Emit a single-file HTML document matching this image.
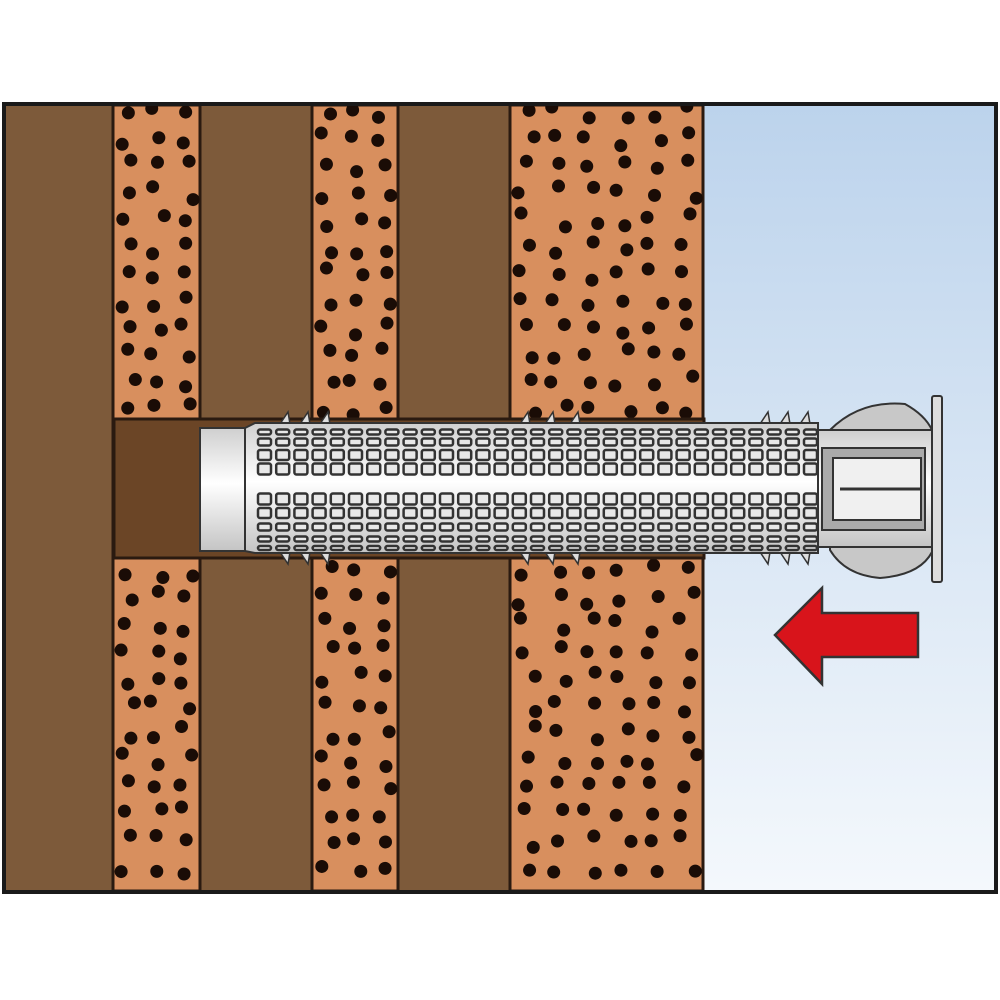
<!DOCTYPE html>
<html><head><meta charset="utf-8"><style>
html,body{margin:0;padding:0;background:#fff;width:1000px;height:1000px;overflow:hidden}
</style></head><body>
<svg id="s" width="1000" height="1000" viewBox="0 0 1000 1000" xmlns="http://www.w3.org/2000/svg">
<defs>
<linearGradient id="sky" x1="0" y1="0" x2="0" y2="1">
<stop offset="0" stop-color="#bcd3ec"/><stop offset="1" stop-color="#f4f8fc"/></linearGradient>
<linearGradient id="tube" x1="0" y1="0" x2="0" y2="1">
<stop offset="0" stop-color="#cfcfcf"/><stop offset="0.45" stop-color="#ffffff"/><stop offset="1" stop-color="#c4c4c4"/></linearGradient>
<clipPath id="c1"><rect x="113" y="105" width="87" height="786"/></clipPath>
<clipPath id="c2"><rect x="312" y="105" width="86" height="786"/></clipPath>
<clipPath id="c3"><rect x="510" y="105" width="193" height="786"/></clipPath>
</defs>
<rect x="5" y="105" width="990" height="786" fill="#7d5a3a"/>
<rect x="703" y="105" width="292" height="786" fill="url(#sky)"/>
<g stroke="#2a1a10" stroke-width="3">
<rect x="113" y="105" width="87" height="786" fill="#d88f5e"/>
<rect x="312" y="105" width="86" height="786" fill="#d88f5e"/>
<rect x="510" y="105" width="193" height="786" fill="#d88f5e"/>
</g>
<g id="dots" fill="#1a0c06"></g>
<!-- hole -->
<rect x="114" y="419" width="590" height="139" fill="#6b4526" stroke="#2a1a10" stroke-width="3"/>
<!-- head disc -->
<path d="M830 430 Q860 400 905 404 Q925 415 932 430 L932 552 Q920 575 880 578 Q845 575 830 550 Z" fill="#c8c8c8" stroke="#333" stroke-width="2"/>
<!-- teeth -->
<g fill="#ddd" stroke="#333" stroke-width="1.5">
<path d="M280 424 l8 -12 l2 12 M300 424 l8 -12 l2 12 M320 424 l8 -12 l2 12 M520 424 l8 -12 l2 12 M545 424 l8 -12 l2 12 M570 424 l8 -12 l2 12 M760 424 l8 -12 l2 12 M780 424 l8 -12 l2 12 M800 424 l8 -12 l2 12"/>
<path d="M280 552 l8 12 l2 -12 M300 552 l8 12 l2 -12 M320 552 l8 12 l2 -12 M520 552 l8 12 l2 -12 M545 552 l8 12 l2 -12 M570 552 l8 12 l2 -12 M760 552 l8 12 l2 -12 M780 552 l8 12 l2 -12 M800 552 l8 12 l2 -12"/>
</g>
<!-- sleeve body -->
<rect x="200" y="428" width="45" height="123" fill="url(#tube)" stroke="#333" stroke-width="2"/>
<path d="M245 428 L255 423 L818 423 L818 553 L255 553 L245 551 Z" fill="url(#tube)" stroke="#333" stroke-width="2"/>
<g id="grid" fill="#e8e8e8" stroke="#333" stroke-width="2.5"></g>
<!-- head -->
<rect x="818" y="430" width="114" height="117" fill="url(#tube)" stroke="#333" stroke-width="2"/>
<path d="M822 448 L925 448 L925 530 L822 530 Z" fill="#aaa" stroke="#333" stroke-width="2"/>
<rect x="833" y="458" width="88" height="62" fill="#f0f0f0" stroke="#333" stroke-width="2"/>
<line x1="840" y1="489" x2="920" y2="489" stroke="#333" stroke-width="3"/>
<rect x="932" y="396" width="10" height="186" rx="2" fill="#ddd" stroke="#333" stroke-width="2"/>
<!-- arrow -->
<path d="M918 613 L822 613 L822 588 L775 635 L822 684 L822 657 L918 657 Z" fill="#d8141b" stroke="#333" stroke-width="2.5"/>
<!-- frame -->
<rect x="4" y="104" width="992" height="788" fill="none" stroke="#1a1a1a" stroke-width="4"/>
</svg>
<script>
var ns="http://www.w3.org/2000/svg";
var seed=7;function r(){seed=(seed*9301+49297)%233280;return seed/233280;}
var d=document.getElementById('dots');
[[113,200,1],[312,398,2],[510,703,3]].forEach(function(c){
 var g=document.createElementNS(ns,'g');g.setAttribute('clip-path','url(#c'+c[2]+')');
 var cols=Math.round((c[1]-c[0])/34);
 for(var y=112;y<895;y+=27){for(var k=0;k<cols;k++){
  if(y>410&&y<566)continue;
  var e=document.createElementNS(ns,'circle');
  var w=(c[1]-c[0])/cols;
  e.setAttribute('cx',c[0]+k*w+8+r()*(w-14));e.setAttribute('cy',y+r()*14-7);e.setAttribute('r',6.5);
  g.appendChild(e);}}
 d.appendChild(g);});
var gr=document.getElementById('grid');
var rows=[[430,5],[440,7],[453,10],[467,11],[497,11],[511,10],[525,7],[537,5],[546,4]];
for(var x=258;x<805;x+=18.2){rows.forEach(function(rw){
 var e=document.createElementNS(ns,'rect');
 e.setAttribute('x',x);e.setAttribute('y',rw[0]-rw[1]/2+2);e.setAttribute('width',13);e.setAttribute('height',rw[1]);e.setAttribute('rx',2);
 gr.appendChild(e);});}
</script>
</body></html>
